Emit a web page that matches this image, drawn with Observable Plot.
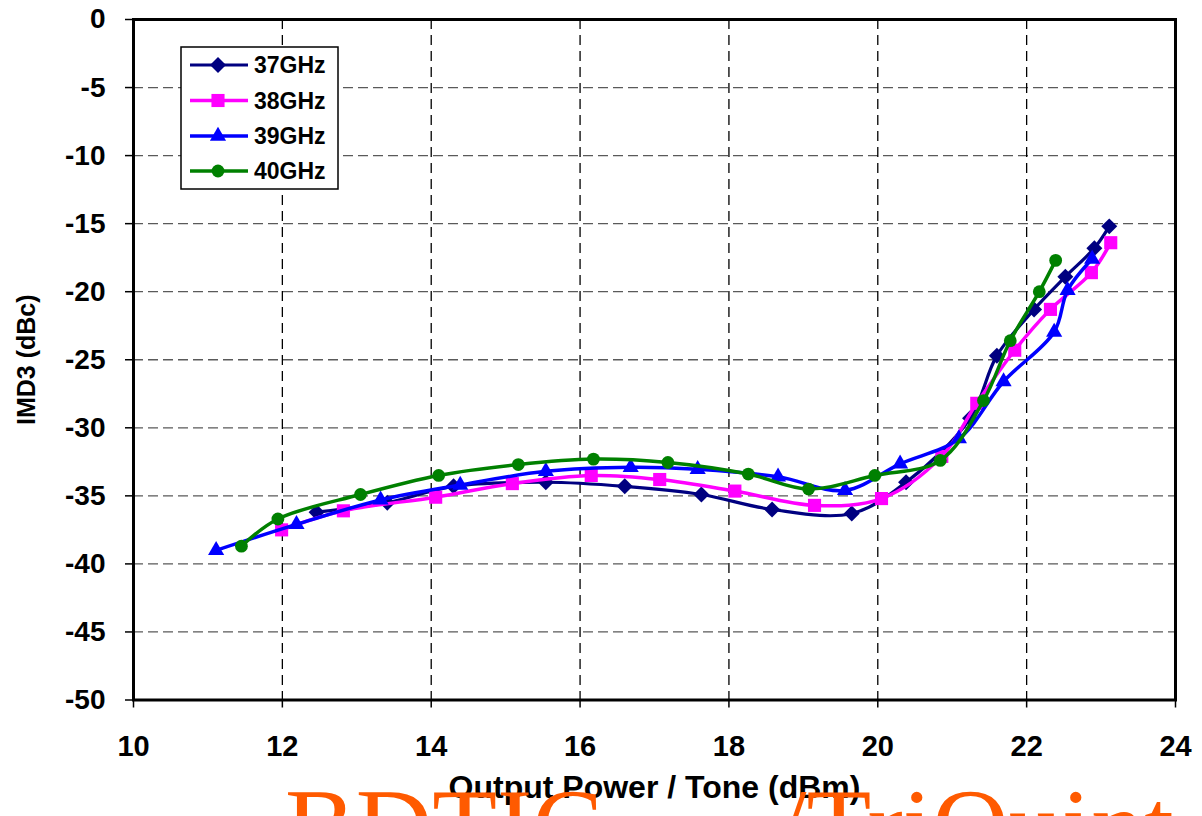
<!DOCTYPE html>
<html><head><meta charset="utf-8">
<script src="https://cdn.jsdelivr.net/npm/d3@7"></script>
<script src="https://cdn.jsdelivr.net/npm/@observablehq/plot@0.6"></script>
<style>
body{margin:0;background:#fff;}
#wrap{position:relative;width:1202px;height:816px;overflow:hidden;font-family:"Liberation Sans",Arial,sans-serif;}
#wrap svg{display:block}
.overlay{position:absolute;pointer-events:none;overflow:visible}
</style></head><body><div id="wrap"></div>
<script>
// ---- data ----
const seriesNames = ["37GHz", "38GHz", "39GHz", "40GHz"];
const x37 = [12.46, 13.41, 14.30, 15.54, 16.60, 17.63, 18.58, 19.65, 20.38, 21.24, 21.60, 22.10, 22.52, 22.91, 23.11];
const y37 = [-36.2, -35.5, -34.3, -34.0, -34.3, -34.9, -36.0, -36.3, -34.0, -29.3, -24.7, -21.3, -18.9, -16.8, -15.2];
const x38 = [11.99, 12.82, 14.06, 15.09, 16.15, 17.07, 18.08, 19.15, 20.05, 20.86, 21.33, 21.84, 22.32, 22.87, 23.13];
const y38 = [-37.5, -36.1, -35.1, -34.1, -33.5, -33.8, -34.65, -35.7, -35.2, -32.1, -28.2, -24.3, -21.3, -18.6, -16.4];
const x39 = [11.11, 12.19, 13.32, 14.39, 15.54, 16.68, 17.58, 18.66, 19.56, 20.30, 21.09, 21.69, 22.37, 22.55, 22.88];
const y39 = [-39.0, -37.1, -35.3, -34.2, -33.2, -32.9, -33.05, -33.6, -34.6, -32.65, -30.8, -26.6, -22.96, -19.9, -17.6];
const x40 = [11.45, 11.94, 13.05, 14.10, 15.17, 16.18, 17.18, 18.26, 19.07, 19.96, 20.84, 21.42, 21.78, 22.17, 22.39];
const y40 = [-38.7, -36.7, -34.9, -33.5, -32.7, -32.3, -32.55, -33.4, -34.5, -33.5, -32.4, -28.0, -23.6, -20.0, -17.7];
const xTicks = [10, 12, 14, 16, 18, 20, 22, 24];
const yTicks = [0, -5, -10, -15, -20, -25, -30, -35, -40, -45, -50];
const xLabel = "Output Power / Tone (dBm)";
const yLabel = "IMD3 (dBc)";
const watermarkA = "BDTIC";
const watermarkB = "/TriQuint";

// ---- styles ----
const colors = ["#000080", "#FF00FF", "#0000FF", "#008000"];
const symbols = ["diamond2", "square", "triangle", "circle"];
const d3symbols = [d3.symbolDiamond2, d3.symbolSquare, d3.symbolTriangle, d3.symbolCircle];
const radii = [7.2, 7.4, 6.0, 6.4];
const widths = [3.2, 3.5, 3.5, 3.5];

const xsAll = [x37, x38, x39, x40], ysAll = [y37, y38, y39, y40];
const data = seriesNames.flatMap((s, i) => xsAll[i].map((x, j) => ({series: s, x, y: ysAll[i][j]})));

const font = "Liberation Sans, Arial, sans-serif";
const marks = [
  Plot.gridY(yTicks.filter(v => v > -50 && v < 0), {stroke: "#5a5a5a", strokeOpacity: 1, strokeWidth: 1.3, strokeDasharray: "10,5"}),
  Plot.gridX(xTicks.filter(v => v > 10 && v < 24), {stroke: "#000", strokeOpacity: 1, strokeWidth: 1.3, strokeDasharray: "10,6"}),
  Plot.axisX(xTicks, {tickSize: 8, tickPadding: 27, fontSize: 29, fontWeight: "bold", fontFamily: font, label: null, tickFormat: d => String(d), stroke: "#000", strokeWidth: 1.5}),
  Plot.axisY(yTicks, {tickSize: 8, tickPadding: 20, fontSize: 28, fontWeight: "bold", fontFamily: font, label: null, tickFormat: d => String(d), stroke: "#000", strokeWidth: 1.5}),
];
seriesNames.forEach((s, i) => {
  const sd = data.filter(d => d.series === s);
  marks.push(Plot.line(sd, {x: "x", y: "y", stroke: "series", strokeWidth: widths[i], curve: "catmull-rom"}));
  marks.push(Plot.dot(sd, {x: "x", y: "y", fill: "series", symbol: "series", r: radii[i], stroke: "none"}));
});
marks.push(Plot.frame({stroke: "#000", strokeWidth: 3}));
marks.push(Plot.text([xLabel], {text: d => d, frameAnchor: "bottom", textAnchor: "middle", dy: 98, fontSize: 32, fontWeight: "bold", fontFamily: font, fill: "#000"}));
marks.push(Plot.text([yLabel], {text: d => d, frameAnchor: "left", textAnchor: "middle", dx: -107, rotate: -90, fontSize: 25, fontWeight: "bold", fontFamily: font, fill: "#000"}));

const chart = Plot.plot({
  width: 1202, height: 816,
  marginLeft: 133, marginRight: 27, marginTop: 19, marginBottom: 116.5,
  x: {domain: [10, 24]},
  y: {domain: [-50, 0]},
  color: {domain: seriesNames, range: colors},
  symbol: {domain: seriesNames, range: symbols},
  style: {background: "#fff", fontFamily: font},
  marks
});
const wrap = document.getElementById("wrap");
wrap.appendChild(chart);

// ---- legend ----
const leg = d3.select(wrap).append("svg").attr("class", "overlay")
  .style("left", "180px").style("top", "46px").attr("width", 160).attr("height", 145);
leg.append("rect").attr("x", 1).attr("y", 1).attr("width", 157).attr("height", 142)
  .attr("fill", "#fff").attr("stroke", "#000").attr("stroke-width", 1.5);
const rowY = [19, 54.5, 90, 125];
seriesNames.forEach((s, i) => {
  const g = leg.append("g").attr("transform", `translate(0,${rowY[i]})`);
  g.append("line").attr("x1", 10).attr("x2", 68).attr("stroke", colors[i]).attr("stroke-width", widths[i]);
  g.append("path").attr("transform", "translate(38,0)")
    .attr("d", d3.symbol(d3symbols[i], Math.PI * radii[i] * radii[i])()).attr("fill", colors[i]);
  g.append("text").attr("x", 74).attr("y", 8).attr("font-size", 23).attr("font-weight", "bold")
    .attr("font-family", font).attr("fill", "#000").text(s);
});

// ---- watermark ----
const wm = d3.select(wrap).append("svg").attr("class", "overlay")
  .style("left", "0px").style("top", "0px").attr("width", 1202).attr("height", 816);
wm.append("text").attr("x", 285).attr("y", 862).attr("font-family", "Liberation Serif, Times New Roman, serif")
  .attr("font-size", 106).attr("fill", "#FF5A00").text(watermarkA);
wm.append("text").attr("x", 777).attr("y", 862).attr("font-family", "Liberation Serif, Times New Roman, serif")
  .attr("font-size", 106).attr("fill", "#FF5A00").text(watermarkB);
</script></body></html>
